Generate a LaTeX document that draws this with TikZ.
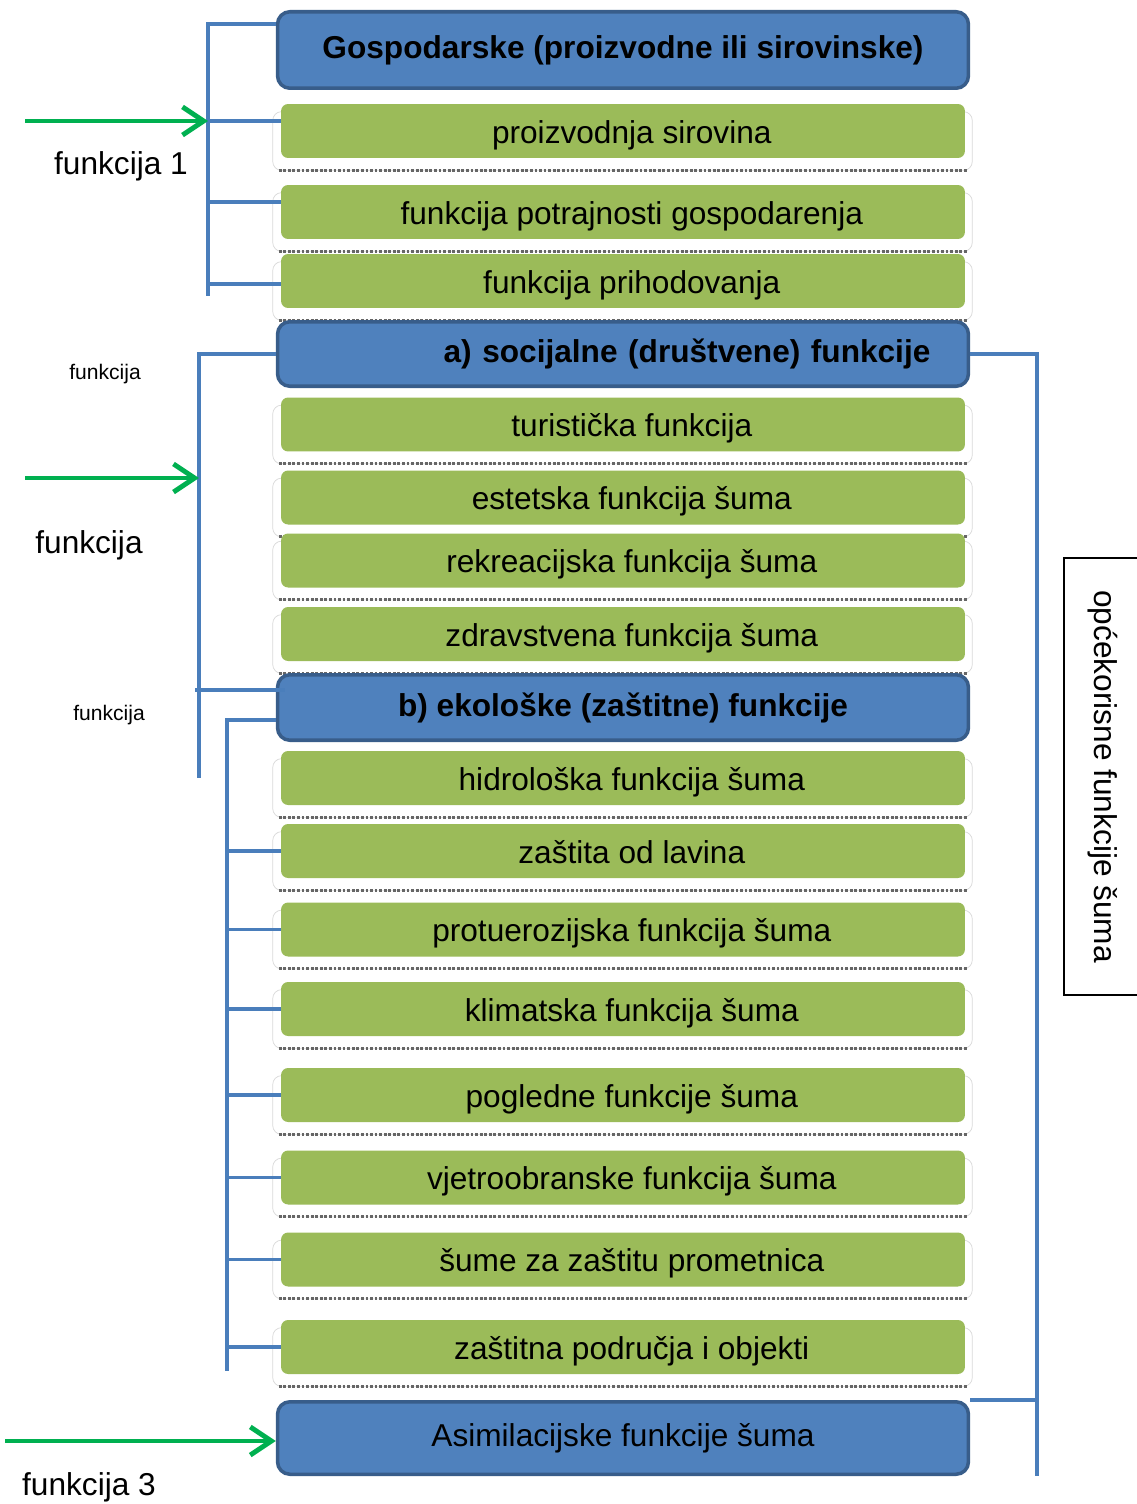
\documentclass[tikz,border=0pt]{standalone}
\usepackage{fontspec}
\setmainfont{Liberation Sans}
\usetikzlibrary{arrows.meta,backgrounds,calc}
\definecolor{hdblue}{HTML}{4F81BD}
\definecolor{hdedge}{HTML}{385D8A}
\definecolor{leaf}{HTML}{9BBB59}
\definecolor{linkblue}{HTML}{4A7EBB}
\definecolor{feedgreen}{HTML}{00B050}
\tikzset{
  head/.style={draw=hdedge, line width=2pt, fill=hdblue, rounded corners=7pt,
    minimum width=13.82cm, font=\fontsize{18}{21}\selectfont\bfseries},
  leafbox/.style={fill=leaf, rounded corners=4pt, minimum width=13.68cm,
    minimum height=1.08cm, text height=14pt, text depth=0pt,
    font=\fontsize{18}{21}\selectfont},
  rim/.style={fill=white, draw=black!15, line width=0.4pt, rounded corners=5pt},
  rimshadow/.style={draw=black!60, line width=1.6pt, densely dotted},
  link/.style={draw=linkblue, line width=2pt},
  feed/.style={draw=feedgreen, line width=2.8pt,
    -{Straight Barb[length=12pt,width=16pt,line width=2.8pt]}},
  tag/.style={font=\fontsize{18}{21}\selectfont},
  smalltag/.style={font=\fontsize{12}{14}\selectfont},
}
\begin{document}
\begin{tikzpicture}[x=0.02cm,y=-0.02cm]
\useasboundingbox (0,0) rectangle (1136,1504);

% header boxes
\node[head, minimum height=1.53cm] (head1) at (623,50) {Gospodarske (proizvodne ili sirovinske)};
\node[head, minimum height=1.29cm, text width=12.3cm, align=right] (heada) at (623,354) {a) socijalne (društvene) funkcije};
\node[head, minimum height=1.31cm] (headb) at (623,707.5) {b) ekološke (zaštitne) funkcije};
\node[head, minimum height=1.45cm, font=\fontsize{18}{21}\selectfont] (asim) at (623,1438) {Asimilacijske funkcije šuma};

% green boxes
\foreach \n/\y/\t in {1/131/proizvodnja sirovina, 2/212/funkcija potrajnosti gospodarenja,
  3/281/funkcija prihodovanja, 4/424.5/turistička funkcija, 5/497.5/estetska funkcija šuma,
  6/560.5/rekreacijska funkcija šuma, 7/634/zdravstvena funkcija šuma,
  8/778/hidrološka funkcija šuma, 9/851/zaštita od lavina, 10/929.5/protuerozijska funkcija šuma,
  11/1009/klimatska funkcija šuma, 12/1095/pogledne funkcije šuma,
  13/1177.5/vjetroobranske funkcija šuma, 14/1259.5/šume za zaštitu prometnica,
  15/1347/zaštitna područja i objekti}
  \node[leafbox] (g\n) at (623,\y) {\hspace*{10pt}\t};

\begin{scope}[on background layer]
\foreach \n in {1,...,15}{
  \fill[rim] ($(g\n.north west)+(-8,8)$) rectangle ($(g\n.south east)+(7,12)$);
  \draw[rimshadow] ($(g\n.south west)+(-2,12)$) -- ($(g\n.south east)+(2,12)$);
}
\end{scope}

% left brackets
\coordinate (b1top) at (208,24);
\coordinate (b1bot) at (208,296);
\draw[link] (b1top -| head1.west) -- (b1top) -- (b1bot);
\foreach \n/\d in {1/-10,2/-10,3/3}
  \draw[link] ($(g\n.west -| b1top)+(0,\d)$) -- ($(g\n.west)+(0,\d)$);

\coordinate (b2top) at (199,354);
\coordinate (b2mid) at (199,690);
\coordinate (b2bot) at (199,778);
\draw[link] (heada.west) -- (b2top) -- (b2bot);
\draw[link] ($(b2mid)+(-4,0)$) -- ($(b2mid -| headb.west)+(9,0)$);

\coordinate (b3top) at (227,720);
\coordinate (b3bot) at (227,1371);
\draw[link] (b3top -| headb.west) -- (b3top) -- (b3bot);
\foreach \n in {9,...,15}
  \draw[link] (g\n.west -| b3top) -- (g\n.west);

% right bracket
\coordinate (r1) at (1037,354);
\coordinate (r2) at (1037,1476);
\draw[link] (heada.east) -- (r1) -- (r2);
\draw[link] (asim.north east) -- (asim.north east -| r1);

\node[draw, line width=0.8pt, rotate=-90, minimum width=8.74cm, minimum height=1.56cm,
  font=\fontsize{18}{21}\selectfont] (side) at (1103,776.5) {općekorisne funkcije šuma};

% green arrows
\coordinate (f1) at (25,121);
\coordinate (f2) at (25,478);
\coordinate (f3) at (5,1441);
\draw[feed] (f1) -- (f1 -| b1top);
\draw[feed] (f2) -- (f2 -| b2top);
\draw[feed] (f3) -- (f3 -| asim.west);

\node[tag] (lab1) at (121,166) {funkcija 1};
\node[smalltag] (lab2a) at (105,374) {funkcija};
\node[tag] (lab2) at (89,545) {funkcija};
\node[smalltag] (lab2b) at (109,715) {funkcija};
\node[tag] (lab3) at (89,1487) {funkcija 3};
\end{tikzpicture}
\end{document}
